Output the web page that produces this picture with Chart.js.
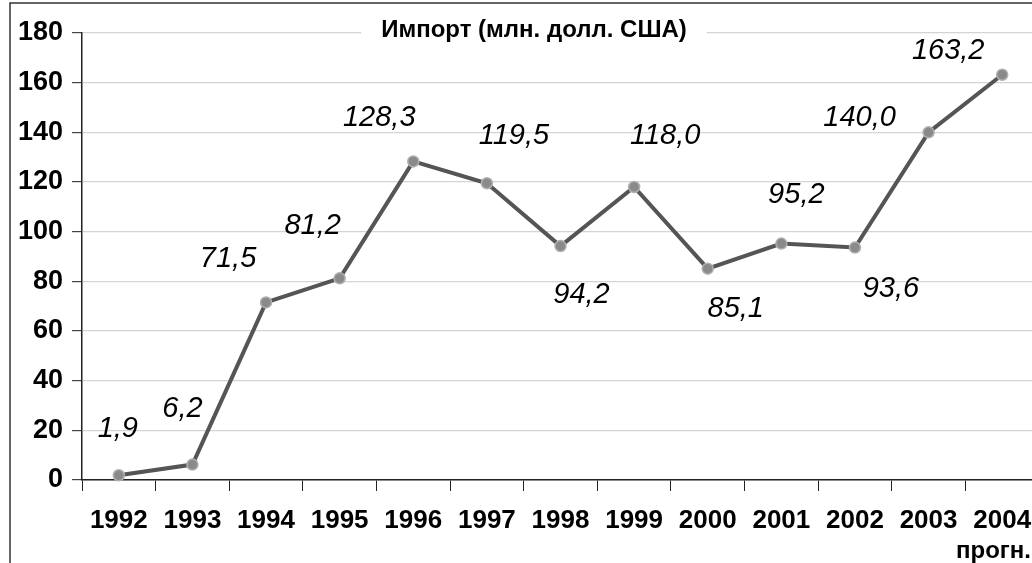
<!DOCTYPE html>
<html><head><meta charset="utf-8">
<script src="https://cdn.jsdelivr.net/npm/chart.js@4"></script>
<style>
html,body{margin:0;padding:0;background:#fff;overflow:hidden;width:1032px;height:563px;}
#wrap{position:absolute;left:0;top:0;width:1046px;height:563px;}
canvas{display:block;}
</style></head>
<body>
<div id="wrap"><canvas id="c" width="1046" height="563"></canvas></div>
<script>
const years = ['1992','1993','1994','1995','1996','1997','1998','1999','2000','2001','2002','2003','2004'];
const imports = [1.9, 6.2, 71.5, 81.2, 128.3, 119.5, 94.2, 118.0, 85.1, 95.2, 93.6, 140.0, 163.2];
const yTicks = [0, 20, 40, 60, 80, 100, 120, 140, 160, 180];
const chartTitle = 'Импорт (млн. долл. США)';
const forecastNote = 'прогн.';

// pixel offsets of each value label relative to its point (styling only)
const labelOffsets = [[-1,-46],[-10,-56],[-38,-44],[-27,-52],[-34,-43],[27,-47],[21,49],[31,-51],[28,40],[15,-49],[36,41],[-69,-14],[-54,-24]];

const decor = {
  id: 'decor',
  afterDraw(chart) {
    const ctx = chart.ctx;
    ctx.save();
    ctx.strokeStyle = '#333';
    ctx.lineWidth = 1.5;
    ctx.beginPath();
    ctx.moveTo(10, 563); ctx.lineTo(10, 3); ctx.lineTo(1046, 3);
    ctx.stroke();
    ctx.font = 'bold 24px "Liberation Sans", Arial, sans-serif';
    const tw = ctx.measureText(chartTitle).width;
    ctx.fillStyle = '#fff';
    ctx.fillRect(534 - tw/2 - 20, 17, tw + 40, 28);
    ctx.fillStyle = '#000';
    ctx.textAlign = 'center';
    ctx.textBaseline = 'middle';
    ctx.fillText(chartTitle, 534, 30);
    ctx.font = 'bold 24px "Liberation Sans", Arial, sans-serif';
    ctx.textAlign = 'right';
    ctx.fillText(forecastNote, 1031, 551);
    const meta = chart.getDatasetMeta(0);
    ctx.font = 'italic 29px "Liberation Sans", Arial, sans-serif';
    ctx.textAlign = 'center';
    meta.data.forEach((pt, i) => {
      const txt = imports[i].toFixed(1).replace('.', ',');
      ctx.fillText(txt, pt.x + labelOffsets[i][0], pt.y + labelOffsets[i][1]);
    });
    ctx.restore();
  }
};

new Chart(document.getElementById('c'), {
  type: 'line',
  data: {
    labels: years,
    datasets: [{
      data: imports,
      borderColor: '#555',
      borderWidth: 4,
      pointRadius: 5.5,
      pointBackgroundColor: '#8a8a8a',
      pointBorderColor: '#b0b0b0',
      pointBorderWidth: 1.5,
      tension: 0,
      clip: false
    }]
  },
  options: {
    responsive: false,
    animation: false,
    devicePixelRatio: 1,
    layout: { padding: { top: 33, right: 0, left: 0, bottom: 0 } },
    plugins: { legend: { display: false }, tooltip: { enabled: false }, title: { display: false } },
    scales: {
      x: {
        offset: true,
        grid: { offset: true, drawOnChartArea: false, drawTicks: true, tickLength: 11, tickColor: '#222' },
        border: { color: '#222', width: 1.5 },
        ticks: { color: '#000', font: { family: '"Liberation Sans", Arial, sans-serif', size: 26, weight: 'bold' }, padding: 14, maxRotation: 0, autoSkip: false },
        afterFit(s) { s.height = 83; }
      },
      y: {
        min: 0, max: 180,
        afterBuildTicks(s) { s.ticks = yTicks.map(v => ({ value: v })); },
        grid: { color: '#d4d4d4', lineWidth: 1.2, tickLength: 10, tickColor: '#444' },
        border: { color: '#222', width: 1.5 },
        ticks: { color: '#000', font: { family: '"Liberation Sans", Arial, sans-serif', size: 27, weight: 'bold' }, padding: 9 },
        afterFit(s) { s.width = 82; }
      }
    }
  },
  plugins: [decor]
});
</script>
</body></html>
